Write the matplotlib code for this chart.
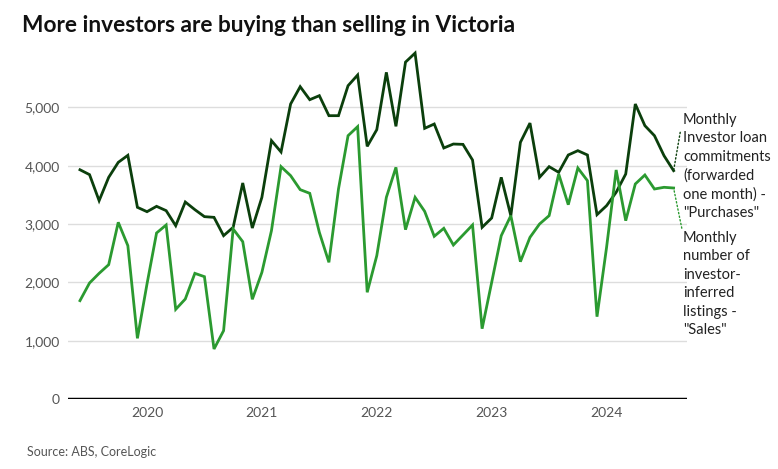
import matplotlib
matplotlib.use("Agg")
import matplotlib.pyplot as plt

# monthly, Jun 2019 .. Aug 2024
start_year, start_month = 2019, 6
purchases = [3930, 3846, 3400, 3800, 4057, 4177, 3286, 3211, 3303, 3229,
             2971, 3377, 3246, 3126, 3114, 2800, 2943, 3703, 2931, 3457,
             4429, 4235, 5057, 5354, 5131, 5200, 4857, 4857, 5371, 5554,
             4331, 4617, 5600, 4674, 5775, 5930, 4640, 4714, 4303, 4371,
             4365, 4097, 2943, 3103, 3800, 3143, 4400, 4730, 3800, 3983,
             3886, 4183, 4257, 4183, 3160, 3314, 3543, 3857, 5057, 4686,
             4514, 4171, 3914]
sales = [1686, 1989, 2154, 2303, 3029, 2629, 1040, 1971, 2846, 2983,
         1537, 1714, 2154, 2097, 857, 1171, 2914, 2697, 1709, 2171,
         2886, 3983, 3829, 3589, 3526, 2857, 2343, 3600, 4514, 4669,
         1829, 2457, 3457, 3971, 2903, 3457, 3217, 2789, 2926, 2640,
         2811, 2983, 1205, 2000, 2800, 3143, 2354, 2771, 3000, 3143,
         3857, 3331, 3960, 3743, 1411, 2600, 3926, 3057, 3686, 3840,
         3600, 3629, 3617]

years = [2020, 2021, 2022, 2023, 2024]
yticks = [0, 1000, 2000, 3000, 4000, 5000]

dark = "#0b3f0c"
light = "#2b9a30"
font = ["Lato", "DejaVu Sans"]
plt.rcParams["font.family"] = font

fig = plt.figure(figsize=(7.78, 4.69), dpi=100)
ax = fig.add_axes([68 / 778, 1 - 399 / 469, (687 - 68) / 778, (399 - 49) / 469])

xs_p = list(range(len(purchases)))
xs_s = list(range(len(sales)))
ax.plot(xs_p, purchases, color=dark, lw=2, solid_joinstyle="miter")
ax.plot(xs_s, sales, color=light, lw=2, solid_joinstyle="miter")

ax.set_ylim(0, 6000)
ax.set_xlim(-1.25, 63.4)
ax.set_yticks(yticks)
ax.set_yticklabels([f"{v:,}" for v in yticks], color="#555555", fontsize=10)
ax.set_xticks([(y - start_year) * 12 + 1 - start_month for y in years])
ax.set_xticklabels([str(y) for y in years], color="#555555", fontsize=10)
ax.tick_params(length=0, pad=6)
ax.grid(axis="y", color="#dddddd", lw=1)
ax.set_axisbelow(True)
for s in ["top", "right", "left", "bottom"]:
    ax.spines[s].set_visible(False)
ax.axhline(0, color="black", lw=2.5, zorder=3)

ax.annotate("Monthly\nInvestor loan\ncommitments\n(forwarded\none month) -\n\"Purchases\"",
            xy=(xs_p[-1], purchases[-1]), xytext=(683 / 778, 1 - 113 / 469),
            textcoords="figure fraction", va="top", ha="left", fontsize=10.5,
            linespacing=1.4, color="#222222", annotation_clip=False,
            arrowprops=dict(arrowstyle="-", linestyle=":", color=dark, lw=1,
                            relpos=(0, 0.97), shrinkA=0, shrinkB=0))
ax.annotate("Monthly\nnumber of\ninvestor-\ninferred\nlistings -\n\"Sales\"",
            xy=(xs_s[-1], sales[-1]), xytext=(683 / 778, 1 - 231 / 469),
            textcoords="figure fraction", va="top", ha="left", fontsize=10.5,
            linespacing=1.4, color="#222222", annotation_clip=False,
            arrowprops=dict(arrowstyle="-", linestyle=":", color=light, lw=1,
                            relpos=(0, 0.97), shrinkA=0, shrinkB=0))

fig.text(22 / 778, 1 - 25 / 469, "More investors are buying than selling in Victoria",
         fontsize=16.3, fontweight="bold", color="#111111", va="center")
fig.text(27 / 778, 1 - 452 / 469, "Source: ABS, CoreLogic", fontsize=9,
         color="#555555", va="center")

fig.savefig("out.png", dpi=100)
